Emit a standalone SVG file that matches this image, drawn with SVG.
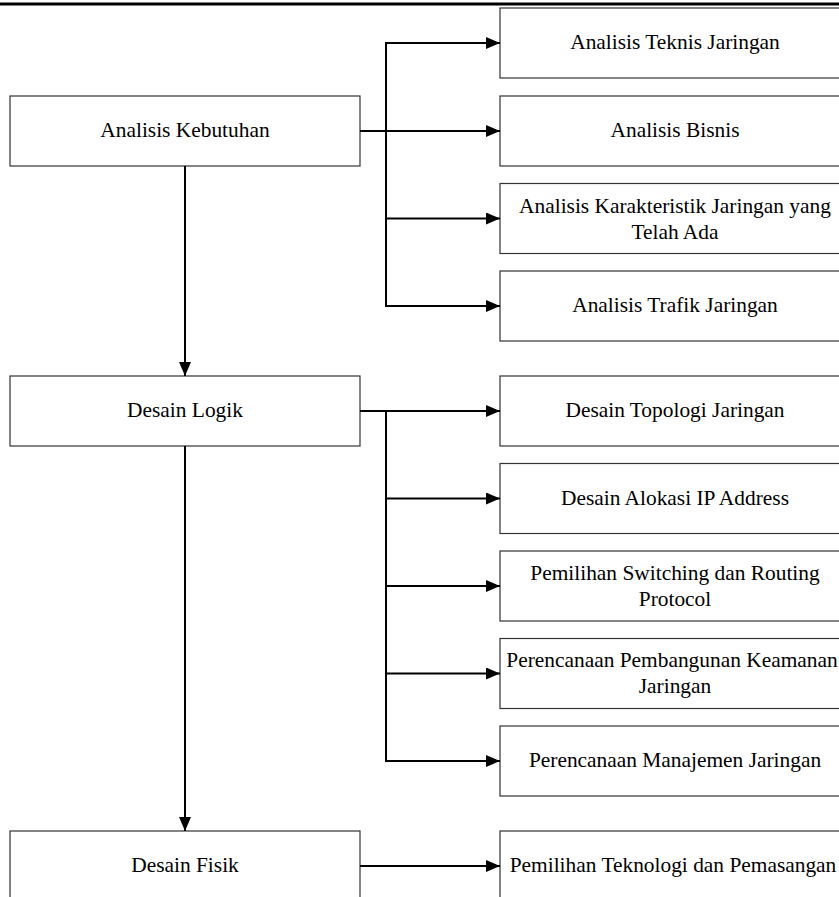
<svg xmlns="http://www.w3.org/2000/svg" width="839" height="897" viewBox="0 0 839 897">
<style>
.box{fill:#fff;stroke:#333;stroke-width:1.2}
.t{font-family:"Liberation Serif","Times New Roman",serif;font-size:21.4px;fill:#000;text-anchor:middle}
.c{fill:none;stroke:#000;stroke-width:2}
</style>
<defs>
<marker id="ah" markerUnits="userSpaceOnUse" markerWidth="14" markerHeight="12" refX="14" refY="6" orient="auto">
<path d="M0,0 L14,6 L0,12 Z" fill="#000"/>
</marker>
</defs>
<rect x="0" y="2.5" width="839" height="3" fill="#000"/>
<g id="n-kebutuhan"><rect class="box" x="10" y="96" width="350" height="70"/><text class="t" x="185" y="137">Analisis Kebutuhan</text></g>
<g id="n-logik"><rect class="box" x="10" y="376" width="350" height="70"/><text class="t" x="185" y="417">Desain Logik</text></g>
<g id="n-fisik"><rect class="box" x="10" y="831" width="350" height="70"/><text class="t" x="185" y="872">Desain Fisik</text></g>
<g id="n-teknis"><rect class="box" x="500" y="8" width="350" height="70"/><text class="t" x="675" y="49">Analisis Teknis Jaringan</text></g>
<g id="n-bisnis"><rect class="box" x="500" y="96" width="350" height="70"/><text class="t" x="675" y="137">Analisis Bisnis</text></g>
<g id="n-karakteristik"><rect class="box" x="500" y="183.5" width="350" height="70"/><text class="t" x="675" y="212.5">Analisis Karakteristik Jaringan yang</text><text class="t" x="675" y="238.5">Telah Ada</text></g>
<g id="n-trafik"><rect class="box" x="500" y="271" width="350" height="70"/><text class="t" x="675" y="312">Analisis Trafik Jaringan</text></g>
<g id="n-topologi"><rect class="box" x="500" y="376" width="350" height="70"/><text class="t" x="675" y="417">Desain Topologi Jaringan</text></g>
<g id="n-ip"><rect class="box" x="500" y="463.5" width="350" height="70"/><text class="t" x="675" y="504.5">Desain Alokasi IP Address</text></g>
<g id="n-switching"><rect class="box" x="500" y="551" width="350" height="70"/><text class="t" x="675" y="580">Pemilihan Switching dan Routing</text><text class="t" x="675" y="606">Protocol</text></g>
<g id="n-keamanan"><rect class="box" x="500" y="638.5" width="350" height="70"/><text class="t" x="672" y="667">Perencanaan Pembangunan Keamanan</text><text class="t" x="675" y="693">Jaringan</text></g>
<g id="n-manajemen"><rect class="box" x="500" y="726" width="350" height="70"/><text class="t" x="675" y="767">Perencanaan Manajemen Jaringan</text></g>
<g id="n-teknologi"><rect class="box" x="500" y="831" width="350" height="70"/><text class="t" x="673" y="872">Pemilihan Teknologi dan Pemasangan</text></g>
<g id="connectors">
<line class="c" x1="185" y1="166" x2="185" y2="376" marker-end="url(#ah)"/>
<line class="c" x1="185" y1="446" x2="185" y2="831" marker-end="url(#ah)"/>
<line class="c" x1="360" y1="131" x2="500" y2="131" marker-end="url(#ah)"/>
<line class="c" x1="386" y1="42" x2="386" y2="307"/>
<line class="c" x1="385" y1="43" x2="500" y2="43" marker-end="url(#ah)"/>
<line class="c" x1="386" y1="218.5" x2="500" y2="218.5" marker-end="url(#ah)"/>
<line class="c" x1="385" y1="306" x2="500" y2="306" marker-end="url(#ah)"/>
<line class="c" x1="360" y1="411" x2="500" y2="411" marker-end="url(#ah)"/>
<line class="c" x1="386" y1="411" x2="386" y2="762"/>
<line class="c" x1="386" y1="498.5" x2="500" y2="498.5" marker-end="url(#ah)"/>
<line class="c" x1="386" y1="586" x2="500" y2="586" marker-end="url(#ah)"/>
<line class="c" x1="386" y1="673.5" x2="500" y2="673.5" marker-end="url(#ah)"/>
<line class="c" x1="385" y1="761" x2="500" y2="761" marker-end="url(#ah)"/>
<line class="c" x1="360" y1="866" x2="500" y2="866" marker-end="url(#ah)"/>
</g>
</svg>
